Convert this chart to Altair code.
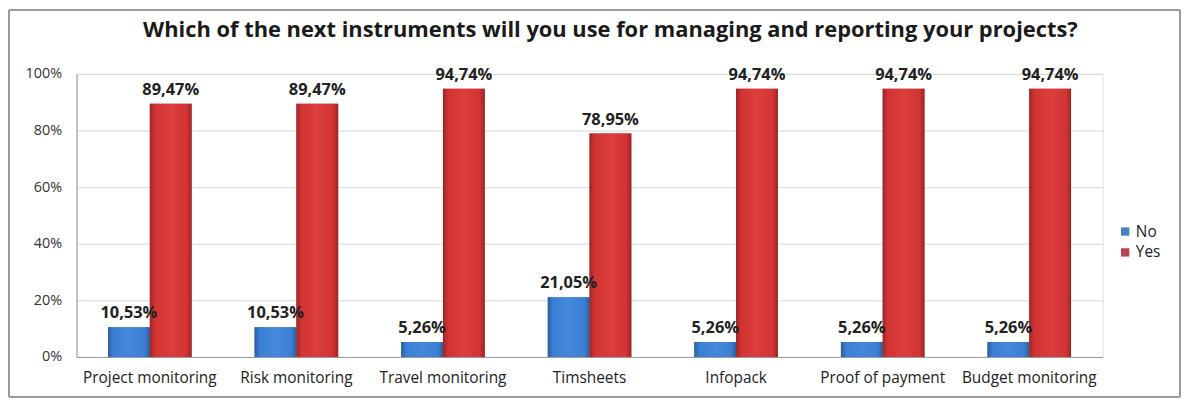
import altair as alt
import pandas as pd

categories = ["Project monitoring", "Risk monitoring", "Travel monitoring", "Timsheets",
              "Infopack", "Proof of payment", "Budget monitoring"]
no_values = [10.53, 10.53, 5.26, 21.05, 5.26, 5.26, 5.26]
yes_values = [89.47, 89.47, 94.74, 78.95, 94.74, 94.74, 94.74]
series = ["No", "Yes"]
legend_colors = ["#4a7fc2", "#bb424a"]

rows = []
for c, n, y in zip(categories, no_values, yes_values):
    rows.append({"cat": c, "series": "No", "v": n / 100, "label": f"{n:.2f}%".replace(".", ",")})
    rows.append({"cat": c, "series": "Yes", "v": y / 100, "label": f"{y:.2f}%".replace(".", ",")})
df = pd.DataFrame(rows)

FONT = "Open Sans"
W, H = 1033, 285

xenc = alt.X("cat:N", sort=categories,
             scale=alt.Scale(paddingInner=0.43, paddingOuter=0.215),
             axis=alt.Axis(title=None, labelAngle=0, labelFont=FONT, labelFontSize=15.5,
                           labelColor="#222", ticks=False, labelPadding=14,
                           domainColor="#999", grid=False))
yenc = alt.Y("v:Q", scale=alt.Scale(domain=[0, 1]),
             axis=alt.Axis(title=None, format=".0%", values=[0, 0.2, 0.4, 0.6, 0.8, 1.0],
                           labelFont=FONT, labelFontSize=14.5, labelColor="#333",
                           ticks=False, labelPadding=15, domainColor="#999",
                           gridColor="#d9d9d9"))
xoff = alt.XOffset("series:N", sort=series)

base_bars = alt.Chart(df).mark_bar().encode(
    x=xenc, y=yenc, xOffset=xoff,
    color=alt.Color("series:N", sort=series,
                    scale=alt.Scale(domain=series, range=legend_colors),
                    legend=alt.Legend(title=None, orient="none", legendX=1048, legendY=151,
                                      labelFont=FONT, labelFontSize=15.5, labelColor="#222",
                                      symbolType="square", symbolSize=70, rowPadding=4,
                                      labelOffset=3, symbolStrokeWidth=0)),
)

blue_grad = alt.LinearGradient(gradient="linear", x1=0, x2=1, y1=0, y2=0, stops=[
    alt.GradientStop(color="#2b5c9c", offset=0),
    alt.GradientStop(color="#3a7fd4", offset=0.12),
    alt.GradientStop(color="#4589dc", offset=0.5),
    alt.GradientStop(color="#3a7fd4", offset=0.88),
    alt.GradientStop(color="#2b5c9c", offset=1)])
red_grad = alt.LinearGradient(gradient="linear", x1=0, x2=1, y1=0, y2=0, stops=[
    alt.GradientStop(color="#9c2424", offset=0),
    alt.GradientStop(color="#d23434", offset=0.12),
    alt.GradientStop(color="#dc3d3d", offset=0.5),
    alt.GradientStop(color="#d23434", offset=0.88),
    alt.GradientStop(color="#9c2424", offset=1)])

no_bars = alt.Chart(df).transform_filter(alt.datum.series == "No").mark_bar(color=blue_grad).encode(
    x=alt.X("cat:N", sort=categories), y="v:Q", xOffset=xoff)
yes_bars = alt.Chart(df).transform_filter(alt.datum.series == "Yes").mark_bar(color=red_grad).encode(
    x=alt.X("cat:N", sort=categories), y="v:Q", xOffset=xoff)

labels = alt.Chart(df).mark_text(font=FONT, fontSize=16.5, fontWeight="bold", color="#222",
                                 baseline="bottom", dy=-6).encode(
    x=alt.X("cat:N", sort=categories), y="v:Q", xOffset=xoff, text="label:N")

border = alt.Chart(df).mark_rect(fill=None, stroke="#999", strokeWidth=1).encode(
    x=alt.value(-68), x2=alt.value(W + 78), y=alt.value(-64), y2=alt.value(H + 40))

chart = alt.layer(base_bars, no_bars, yes_bars, labels, border).properties(
    width=W, height=H,
    title=alt.TitleParams(
        "Which of the next instruments will you use for managing and reporting your projects?",
        font=FONT, fontSize=22, fontWeight="bold", color="#1a1a1a", anchor="middle",
        offset=0, dx=21, dy=54, baseline="bottom"),
    autosize=alt.AutoSizeParams(type="none"),
    padding={"left": 69, "top": 65, "right": 83, "bottom": 42},
).configure_view(stroke=None).configure(background="white")

chart.save("out.html", embed_options={"renderer": "svg", "actions": False})
